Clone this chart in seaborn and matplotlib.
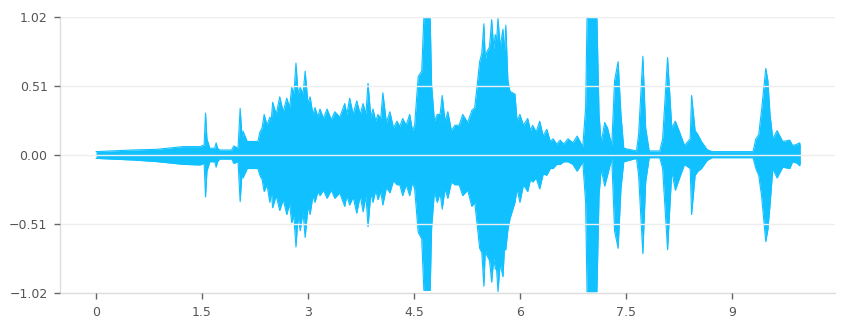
import matplotlib
matplotlib.use("Agg")
import matplotlib.pyplot as plt
import seaborn as sns
import pandas as pd

# Envelope of the waveform (seconds, upper peak, lower peak)
time_s = [0.00, 0.52, 0.86, 1.23, 1.47, 1.53, 1.55, 1.57, 1.61, 1.68,
          1.70, 1.72, 1.75, 1.92, 1.95, 2.01, 2.04, 2.07, 2.08, 2.14,
          2.29, 2.32, 2.35, 2.38, 2.42, 2.46, 2.48, 2.50, 2.55, 2.60,
          2.65, 2.70, 2.74, 2.77, 2.80, 2.83, 2.86, 2.89, 2.93, 2.96,
          3.00, 3.03, 3.07, 3.10, 3.14, 3.17, 3.22, 3.27, 3.33, 3.38,
          3.45, 3.52, 3.55, 3.59, 3.64, 3.69, 3.74, 3.78, 3.82, 3.85,
          3.89, 3.92, 3.96, 3.99, 4.03, 4.06, 4.11, 4.16, 4.21, 4.26,
          4.30, 4.34, 4.39, 4.44, 4.48, 4.51, 4.56, 4.61, 4.64, 4.73,
          4.75, 4.79, 4.83, 4.87, 4.90, 4.94, 4.98, 5.03, 5.08, 5.14,
          5.19, 5.26, 5.32, 5.36, 5.39, 5.43, 5.46, 5.49, 5.51, 5.53,
          5.57, 5.60, 5.63, 5.65, 5.67, 5.69, 5.72, 5.76, 5.78, 5.80,
          5.83, 5.86, 5.93, 5.96, 6.00, 6.05, 6.11, 6.15, 6.18, 6.23,
          6.28, 6.33, 6.38, 6.43, 6.47, 6.52, 6.57, 6.62, 6.68, 6.75,
          6.81, 6.89, 6.93, 6.95, 7.09, 7.12, 7.15, 7.20, 7.24, 7.30,
          7.34, 7.39, 7.43, 7.47, 7.65, 7.68, 7.74, 7.78, 7.83, 7.98,
          8.02, 8.09, 8.15, 8.20, 8.26, 8.33, 8.41, 8.43, 8.48, 8.52,
          8.57, 8.65, 8.72, 9.11, 9.30, 9.34, 9.38, 9.42, 9.48, 9.51,
          9.54, 9.58, 9.64, 9.72, 9.82, 9.86, 9.92, 9.96, 9.97]
upper = [0.025, 0.037, 0.042, 0.062, 0.062, 0.074, 0.31, 0.12, 0.05, 0.05,
         0.09, 0.05, 0.037, 0.037, 0.067, 0.05, 0.345, 0.10, 0.177, 0.10,
         0.10, 0.17, 0.20, 0.30, 0.22, 0.28, 0.25, 0.39, 0.30, 0.43,
         0.32, 0.42, 0.35, 0.50, 0.45, 0.68, 0.45, 0.50, 0.45, 0.62,
         0.38, 0.43, 0.30, 0.35, 0.28, 0.34, 0.27, 0.34, 0.26, 0.32,
         0.28, 0.38, 0.30, 0.42, 0.30, 0.40, 0.30, 0.38, 0.30, 0.53,
         0.28, 0.34, 0.25, 0.30, 0.27, 0.46, 0.24, 0.32, 0.20, 0.25,
         0.21, 0.27, 0.22, 0.30, 0.18, 0.22, 0.58, 0.62, 1.01, 1.01,
         0.52, 0.25, 0.30, 0.30, 0.44, 0.25, 0.32, 0.18, 0.22, 0.22,
         0.30, 0.24, 0.33, 0.35, 0.49, 0.69, 0.75, 0.97, 0.70, 0.76,
         0.80, 1.00, 0.78, 0.89, 0.85, 1.01, 0.80, 0.93, 0.75, 0.96,
         0.55, 0.47, 0.45, 0.25, 0.30, 0.22, 0.27, 0.18, 0.22, 0.17,
         0.25, 0.14, 0.19, 0.10, 0.12, 0.08, 0.11, 0.08, 0.12, 0.09,
         0.14, 0.06, 0.35, 1.01, 1.01, 0.30, 0.09, 0.24, 0.20, 0.07,
         0.55, 0.69, 0.30, 0.05, 0.03, 0.15, 0.73, 0.20, 0.03, 0.03,
         0.12, 0.72, 0.20, 0.25, 0.17, 0.07, 0.12, 0.44, 0.18, 0.15,
         0.10, 0.04, 0.025, 0.025, 0.025, 0.12, 0.15, 0.33, 0.64, 0.55,
         0.30, 0.12, 0.18, 0.10, 0.11, 0.07, 0.08, 0.09, 0.06]
lower = [-0.025, -0.037, -0.049, -0.069, -0.074, -0.062, -0.31, -0.12, -0.05, -0.05,
         -0.09, -0.05, -0.03, -0.03, -0.062, -0.05, -0.345, -0.10, -0.17, -0.10,
         -0.10, -0.15, -0.18, -0.27, -0.22, -0.35, -0.26, -0.39, -0.30, -0.41,
         -0.33, -0.44, -0.36, -0.50, -0.45, -0.68, -0.45, -0.56, -0.42, -0.61,
         -0.38, -0.44, -0.30, -0.35, -0.27, -0.30, -0.26, -0.32, -0.26, -0.32,
         -0.28, -0.38, -0.30, -0.37, -0.31, -0.43, -0.30, -0.42, -0.30, -0.53,
         -0.28, -0.35, -0.26, -0.33, -0.27, -0.37, -0.24, -0.28, -0.19, -0.22,
         -0.22, -0.30, -0.22, -0.30, -0.20, -0.25, -0.57, -0.62, -1.00, -1.00,
         -0.54, -0.27, -0.35, -0.28, -0.40, -0.25, -0.32, -0.20, -0.22, -0.22,
         -0.30, -0.26, -0.38, -0.35, -0.49, -0.69, -0.72, -0.97, -0.70, -0.74,
         -0.78, -0.94, -0.76, -0.84, -0.85, -1.01, -0.80, -0.90, -0.70, -0.70,
         -0.55, -0.47, -0.35, -0.25, -0.35, -0.22, -0.27, -0.18, -0.20, -0.17,
         -0.25, -0.14, -0.15, -0.10, -0.10, -0.07, -0.07, -0.05, -0.05, -0.07,
         -0.12, -0.05, -0.35, -1.01, -1.01, -0.30, -0.10, -0.23, -0.15, -0.025,
         -0.56, -0.69, -0.25, -0.05, -0.025, -0.15, -0.73, -0.20, -0.02, -0.02,
         -0.10, -0.70, -0.12, -0.26, -0.17, -0.07, -0.10, -0.44, -0.15, -0.12,
         -0.10, -0.04, -0.02, -0.02, -0.02, -0.10, -0.15, -0.30, -0.64, -0.55,
         -0.37, -0.10, -0.17, -0.09, -0.10, -0.05, -0.06, -0.08, -0.05]

x_ticks = [0, 1.5, 3, 4.5, 6, 7.5, 9]
x_tick_labels = ["0", "1.5", "3", "4.5", "6", "7.5", "9"]
y_ticks = [1.02, 0.51, 0.0, -0.51, -1.02]
y_tick_labels = ["1.02", "0.51", "0.00", "\u22120.51", "\u22121.02"]

df = pd.DataFrame({"time": time_s, "upper": upper, "lower": lower})

sns.set_theme(style="white")
plt.rcParams["font.family"] = ["DejaVu Sans"]

color = "#10c0ff"
fig = plt.figure(figsize=(8.47, 3.29), dpi=100)
ax = fig.add_axes([60 / 847, 1 - 293 / 329, (835 - 60) / 847, (293 - 17) / 329])

ax.fill_between(df["time"], df["lower"], df["upper"], color=color, lw=0, zorder=1)
sns.lineplot(data=df, x="time", y="upper", ax=ax, color=color, lw=0.8, zorder=1)
sns.lineplot(data=df, x="time", y="lower", ax=ax, color=color, lw=0.8, zorder=1)

ax.set_xlim(-0.51, 10.46)
ax.set_ylim(-1.02, 1.02)
ax.set_xticks(x_ticks)
ax.set_xticklabels(x_tick_labels)
ax.set_yticks(y_ticks)
ax.set_yticklabels(y_tick_labels)
ax.set_xlabel("")
ax.set_ylabel("")

ax.set_axisbelow(False)
ax.yaxis.grid(True, color="#eeeeee", lw=1, zorder=3)
ax.xaxis.grid(False)

for side in ["top", "right"]:
    ax.spines[side].set_visible(False)
for side in ["left", "bottom"]:
    ax.spines[side].set_color("#dddddd")
    ax.spines[side].set_linewidth(1)

ax.tick_params(axis="both", which="both", length=4, width=1, color="#666666",
               labelcolor="#555555", labelsize=9, direction="out", pad=5,
               left=True, bottom=True)

fig.savefig("out.png", dpi=100)
